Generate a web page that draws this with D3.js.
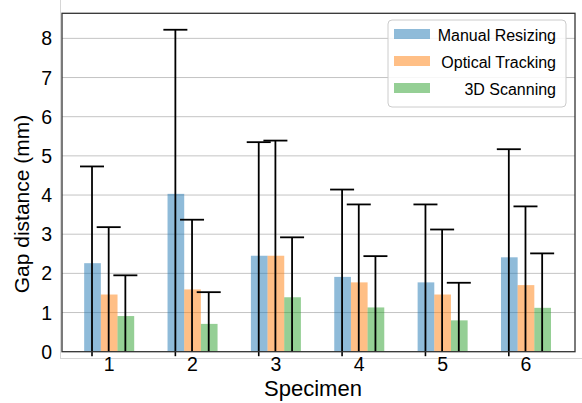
<!DOCTYPE html>
<html>
<head>
<meta charset="utf-8">
<script src="https://cdnjs.cloudflare.com/ajax/libs/d3/7.8.5/d3.min.js"></script>
<style>
  html, body { margin: 0; padding: 0; background: #fff; }
  svg { display: block; font-family: "Liberation Sans", Arial, sans-serif; }
</style>
</head>
<body>
<svg id="chart" width="582" height="403"></svg>
<script>
const specimens = ["1", "2", "3", "4", "5", "6"];
const seriesNames = ["Manual Resizing", "Optical Tracking", "3D Scanning"];
const manualResizing = [2.26, 4.03, 2.45, 1.91, 1.77, 2.41];
const manualResizingErr = [2.47, 4.19, 2.90, 2.23, 1.99, 2.76];
const opticalTracking = [1.46, 1.59, 2.45, 1.77, 1.46, 1.70];
const opticalTrackingErr = [1.72, 1.78, 2.94, 1.99, 1.66, 2.01];
const scanning3D = [0.91, 0.71, 1.39, 1.13, 0.80, 1.12];
const scanning3DErr = [1.04, 0.81, 1.53, 1.31, 0.96, 1.39];
const yTicks = [0, 1, 2, 3, 4, 5, 6, 7, 8];
const colors = ["#1f77b4", "#ff7f0e", "#2ca02c"];

(function () {
const series = [
  { name: seriesNames[0], values: manualResizing, errs: manualResizingErr, color: colors[0], offset: -0.2 },
  { name: seriesNames[1], values: opticalTracking, errs: opticalTrackingErr, color: colors[1], offset: 0 },
  { name: seriesNames[2], values: scanning3D, errs: scanning3DErr, color: colors[2], offset: 0.2 }
];

const svg = d3.select("#chart");
const pL = 62, pR = 575, pT = 13.3, pB = 351.7;
const x = d3.scaleLinear().domain([0.434, 6.588]).range([pL, pR]);
const y = d3.scaleLinear().domain([0, 8.64]).range([pB, pT]);
const barW = x(0.2) - x(0);

// faint outer frame lines
svg.append("line").attr("x1", 60.5).attr("x2", 60.5).attr("y1", 0).attr("y2", 358.5)
  .attr("stroke", "#d6d6d6").attr("stroke-width", 1);
svg.append("line").attr("x1", 60).attr("x2", 582).attr("y1", 358.5).attr("y2", 358.5)
  .attr("stroke", "#d6d6d6").attr("stroke-width", 1);

// gridlines
svg.append("g").selectAll("line").data(yTicks.filter(d => d > 0)).join("line")
  .attr("x1", pL).attr("x2", pR)
  .attr("y1", d => y(d)).attr("y2", d => y(d))
  .attr("stroke", "#c4c4c4").attr("stroke-width", 1);

// bars
series.forEach(s => {
  svg.append("g").selectAll("rect").data(s.values).join("rect")
    .attr("x", (d, i) => x(i + 1 + s.offset) - barW / 2)
    .attr("y", d => y(d))
    .attr("width", barW)
    .attr("height", d => y(0) - y(d))
    .attr("fill", s.color)
    .attr("fill-opacity", 0.5);
});

// error bars
series.forEach(s => {
  const g = svg.append("g").attr("stroke", "#000").attr("stroke-width", 1.8);
  s.values.forEach((v, i) => {
    const cx = x(i + 1 + s.offset) - 0.5;
    const hi = v + s.errs[i];
    const lo = Math.max(0, v - s.errs[i]);
    g.append("line").attr("x1", cx).attr("x2", cx).attr("y1", y(hi)).attr("y2", y(lo));
    g.append("line").attr("x1", cx - 12).attr("x2", cx + 12).attr("y1", y(hi)).attr("y2", y(hi));
  });
});

// x tick marks (at first bar of each group)
svg.append("g").selectAll("line").data(specimens).join("line")
  .attr("x1", (d, i) => x(i + 1 - 0.2) - 0.5).attr("x2", (d, i) => x(i + 1 - 0.2) - 0.5)
  .attr("y1", pB).attr("y2", pB + 4.5)
  .attr("stroke", "#000").attr("stroke-width", 1.6);

// frame
svg.append("rect").attr("x", pL).attr("y", pT).attr("width", pR - pL).attr("height", pB - pT)
  .attr("fill", "none").attr("stroke", "#333").attr("stroke-width", 1.3);

// y tick labels
svg.append("g").selectAll("text").data(yTicks).join("text")
  .attr("x", 52).attr("y", d => y(d)).attr("dy", "0.36em")
  .attr("text-anchor", "end").attr("font-size", 19.5).attr("fill", "#000")
  .text(d => d);

// x tick labels
svg.append("g").selectAll("text").data(specimens).join("text")
  .attr("x", (d, i) => x(i + 1)).attr("y", 371)
  .attr("text-anchor", "middle").attr("font-size", 19.5).attr("fill", "#000")
  .text(d => d);

// axis titles
svg.append("text").attr("x", 313).attr("y", 396).attr("text-anchor", "middle")
  .attr("font-size", 22).attr("fill", "#000").text("Specimen");
svg.append("text").attr("transform", "translate(29,204) rotate(-90)")
  .attr("text-anchor", "middle").attr("font-size", 21).attr("fill", "#000").text("Gap distance (mm)");

// legend
const lg = svg.append("g");
lg.append("rect").attr("x", 388).attr("y", 20).attr("width", 178).attr("height", 87).attr("rx", 4)
  .attr("fill", "#fff").attr("fill-opacity", 0.85).attr("stroke", "#cccccc").attr("stroke-width", 1);
series.forEach((s, i) => {
  const cy = 34 + i * 27;
  lg.append("rect").attr("x", 394).attr("y", cy - 5).attr("width", 36).attr("height", 10)
    .attr("fill", s.color).attr("fill-opacity", 0.5);
  lg.append("text").attr("x", 556).attr("y", cy + 1).attr("dy", "0.35em").attr("text-anchor", "end")
    .attr("font-size", 16).attr("fill", "#000").text(s.name);
});
})();
</script>
</body>
</html>
